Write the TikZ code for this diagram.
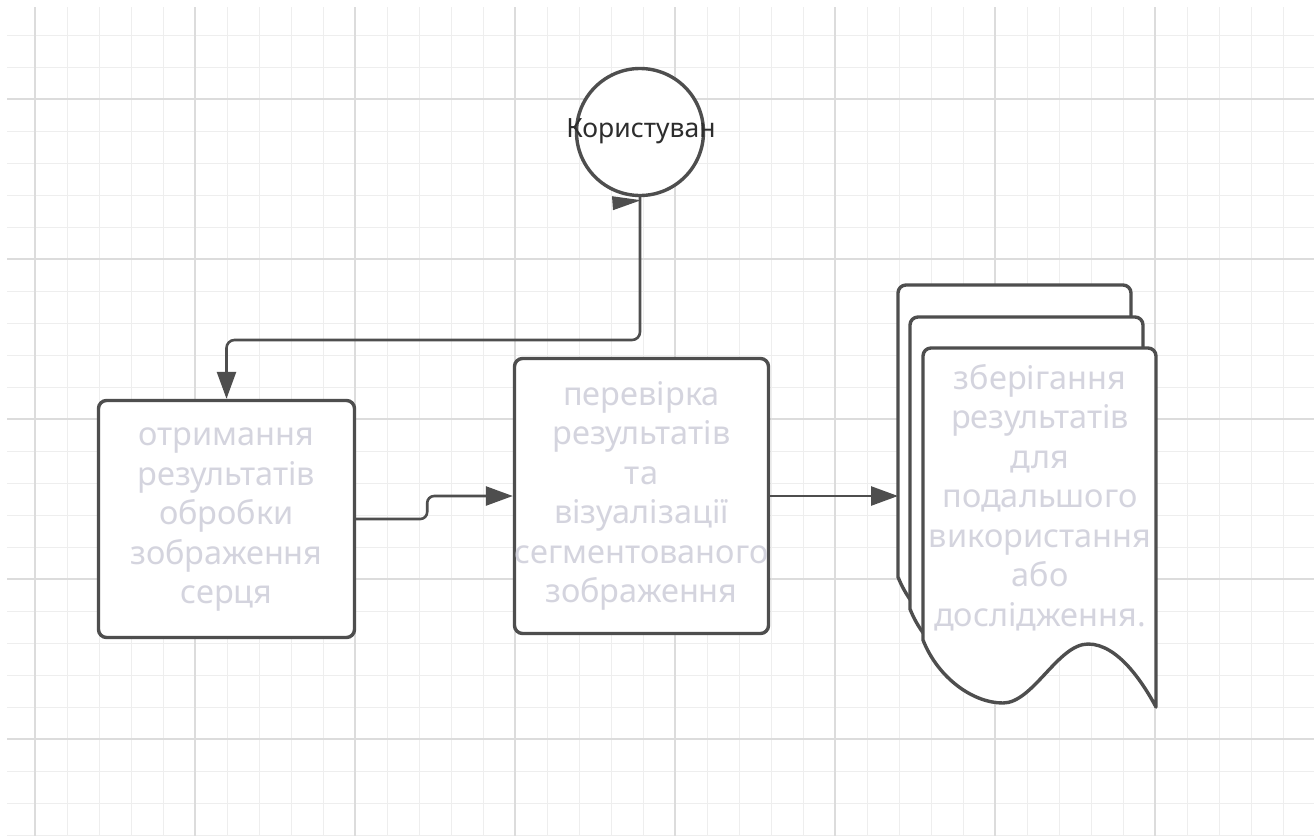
\documentclass[tikz,border=0pt]{standalone}
\usepackage{fontspec}
\setmainfont{Noto Sans}
\usetikzlibrary{arrows.meta}

\definecolor{linecol}{RGB}{78,78,78}
\definecolor{gridminor}{RGB}{238,238,238}
\definecolor{gridmajor}{RGB}{220,220,220}
\definecolor{paletext}{RGB}{212,212,222}
\definecolor{darktext}{RGB}{45,45,45}

\tikzset{
  gridthin/.style={draw=gridminor, line width=1pt},
  gridthick/.style={draw=gridmajor, line width=1.1pt},
  procbox/.style={draw=linecol, fill=white, line width=3.4pt, rounded corners=8pt,
    inner sep=0pt, rectangle},
  actor/.style={draw=linecol, fill=white, line width=3.4pt, circle, inner sep=0pt,
    minimum size=127pt},
  boxtext/.style={text=paletext, align=center, inner sep=0pt,
    font=\fontsize{32.5}{39.5}\selectfont},
  actortext/.style={text=darktext, inner sep=0pt, font=\fontsize{26.5}{30}\selectfont},
  conn/.style={draw=linecol, line width=2.6pt,
    -{Triangle[length=27pt,width=19pt]}},
  pagefill/.style={fill=white, draw=linecol, line width=3.4pt, line join=round},
}

\begin{document}
\begin{tikzpicture}[x=1pt,y=-1pt]
\useasboundingbox (0,0) rectangle (1314,836);
\fill[white] (0,0) rectangle (1314,836);

% background grid
\foreach \i in {0,...,39} \draw[gridthin] ({35+32*\i},7) -- ({35+32*\i},836);
\foreach \j in {0,...,25} \draw[gridthin] (7,{35+32*\j}) -- (1314,{35+32*\j});
\foreach \i in {0,...,7} \draw[gridthick] ({35+160*\i},7) -- ({35+160*\i},836);
\foreach \j in {0,...,4} \draw[gridthick] (7,{99+160*\j}) -- (1314,{99+160*\j});

% process boxes
\node[procbox, minimum width=256pt, minimum height=237pt] (rcv) at (226.5,519) {};
\node[procbox, minimum width=254pt, minimum height=275pt] (check) at (641.5,496) {};

% user
\node[actor] (user) at (640,132) {};
\node[actortext, anchor=base] (usertext) at (641,137) {Користуван};

% stack of documents
\foreach \px/\py in {898/285, 910/317, 923/348}{
  \begin{scope}[shift={(\px,\py)}]
    \filldraw[pagefill] (0,292) -- (0,8) .. controls (0,3.6) and (3.6,0) .. (8,0)
      -- (225,0) .. controls (229.4,0) and (233,3.6) .. (233,8)
      -- (233,359) .. controls (220,335) and (195,296) .. (165,296)
      .. controls (135,296) and (110,355) .. (80,355)
      .. controls (50,355) and (15,330) .. (0,292) -- cycle;
  \end{scope}
}
\node[inner sep=0pt, minimum width=233pt, minimum height=292pt, anchor=north west] (stack) at (898,285) {};

% texts
\node[boxtext] (rcvtext) at ([yshift=2]rcv.center) {\strut отримання\\результатів\\обробки\\зображення\\серця\strut};
\node[boxtext] (checktext) at (check) {\strut перевірка\\результатів\\та\\візуалізації\\сегментованого\\зображення\strut};
\node[boxtext] (storetext) at (1040,500) {\strut зберігання\\результатів\\для\\подальшого\\використання\\або\\дослідження.\strut};

% connectors
\coordinate (bend) at (640,340);
\draw[conn, rounded corners=8pt] (user.south) -- (bend) -| (rcv.north);
\fill[linecol] ([shift={(1,3)}]user.south) -- ([shift={(-28,-1)}]user.south)
  -- ([shift={(-27,13)}]user.south) -- cycle;
\draw[conn, rounded corners=7pt] (rcv.east) -- ++(71,0) |- (check.west);
\draw[conn] (check.east) -- (check.east -| stack.west);
\end{tikzpicture}
\end{document}
